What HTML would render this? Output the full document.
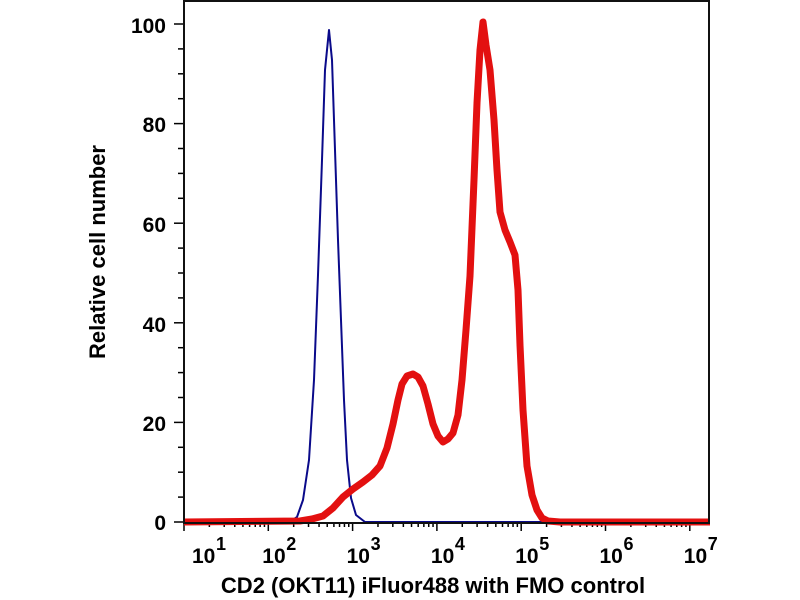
<!DOCTYPE html>
<html><head><meta charset="utf-8"><style>body{margin:0;background:#fff}svg{display:block}</style></head>
<body>
<svg id="s" width="800" height="600" xmlns="http://www.w3.org/2000/svg" font-family="Liberation Sans, sans-serif" font-weight="bold">
<rect x="0" y="0" width="800" height="600" fill="#fff"/>
<g id="ticks" stroke="#000" stroke-width="1.5"></g>
<polyline fill="none" stroke="#0a0a8a" stroke-width="2" stroke-linejoin="round" points="184,522 290,522 297,517 303,500 309,460 314,380 318,275 322,160 325,70 329,30 332,60 335,150 338,240 341,320 344,400 347,460 351,498 356,515 365,522 710,522"/>
<polyline fill="none" stroke="#e31010" stroke-width="7" stroke-linejoin="round" points="184,522 300,521 312,519 323,516 333,508 343,497 353,489 363,482 372,475 380,466 387,448 393,424 398,400 402,384 407,376 413,374 418,377 423,386 428,404 433,424 438,436 443,442 448,439 453,433 458,415 462,380 466,330 470,276 474,180 477,103 480,50 483,22 486,45 490,70 494,120 497,170 500,212 505,230 510,242 515,255 518,290 520,345 523,410 527,466 532,495 537,510 542,518 548,521 560,522 710,522"/>
<rect x="184" y="1" width="525" height="522" fill="none" stroke="#111" stroke-width="2"/>
<g font-size="21" text-anchor="end">
<text x="166" y="33">100</text><text x="166" y="132">80</text><text x="166" y="232">60</text><text x="166" y="332">40</text><text x="166" y="431">20</text><text x="166" y="530">0</text>
</g>
<g id="xl" font-size="21"></g>
<text x="433" y="593" font-size="22" text-anchor="middle">CD2 (OKT11) iFluor488 with FMO control</text>
<text transform="translate(105,252) rotate(-90)" font-size="22" text-anchor="middle">Relative cell number</text>
</svg>
<script>
var t=document.getElementById('ticks'),xl=document.getElementById('xl'),h='';
for(var v=0;v<=100;v+=5){var y=522-v*4.98;h+='<line x1="'+(v%20?178:174)+'" y1="'+y+'" x2="184" y2="'+y+'"/>';}
var x0=184,d=84.3;
for(var k=0;k<=6.1;k++){for(var m=1;m<10;m++){var x=x0+d*(k+Math.log10(m));if(x>709)break;h+='<line x1="'+x+'" y1="523" x2="'+x+'" y2="'+(m==1?531:527)+'"/>';}}
t.innerHTML=h;var s='';
for(var k=1;k<=7;k++){var x=(k==1?192:x0+d*(k-1)-6);s+='<text x="'+x+'" y="563">10</text><text x="'+(x+24)+'" y="550" font-size="18">'+k+'</text>';}
xl.innerHTML=s;
</script>
</body></html>
